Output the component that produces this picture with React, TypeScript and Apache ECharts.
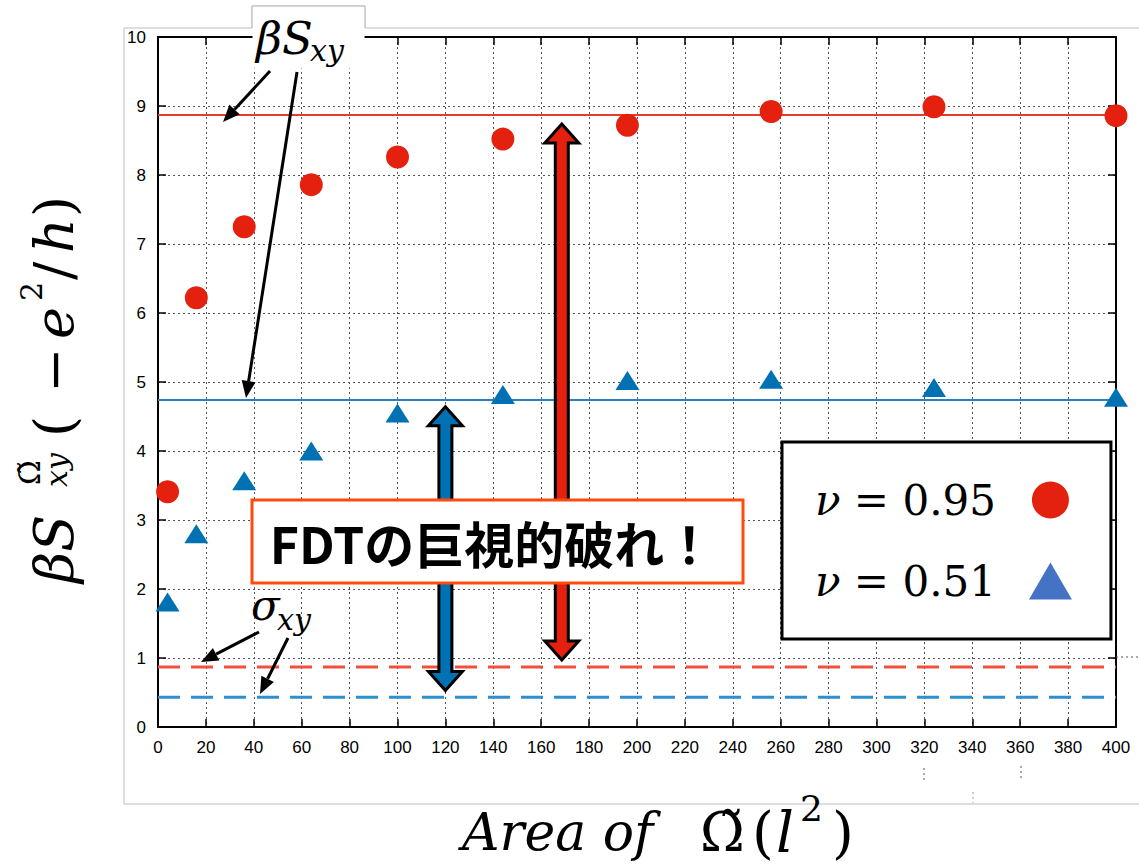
import React, { useEffect, useRef } from 'react';
import * as echarts from 'echarts';

// ---- data ----
const areas = [4, 16, 36, 64, 100, 144, 196, 256, 324, 400];
const nu095 = [3.41, 6.22, 7.25, 7.86, 8.26, 8.52, 8.72, 8.92, 8.99, 8.86];
const nu051 = [1.81, 2.8, 3.57, 4.0, 4.55, 4.82, 5.02, 5.04, 4.92, 4.78];
const bulk095 = 8.87; // βSxy (ν = 0.95)
const bulk051 = 4.74; // βSxy (ν = 0.51)
const sigma095 = 0.87; // σxy (ν = 0.95)
const sigma051 = 0.43; // σxy (ν = 0.51)
const gapArrowX = [168.6, 120];
const gapArrowBottom = [0.97, 0.53];
const gapArrowTop = [8.74, 4.64];
const seriesNames = ['ν = 0.95', 'ν = 0.51'];
const xMin = 0, xMax = 400, xStep = 20;
const yMin = 0, yMax = 10, yStep = 1;

const RED = '#E4200F';
const BLUE = '#0071B3';
const mathFont = "'DejaVu Serif', serif";
const sansFont = "'Liberation Sans', Arial, sans-serif";

function txt(text: string, x: number, y: number, size: number, opts: any = {}) {
  return {
    type: 'text',
    z: 102,
    style: {
      text,
      x,
      y,
      fontSize: size,
      fontFamily: opts.family || mathFont,
      fontStyle: opts.italic === false ? 'normal' : 'italic',
      fontWeight: opts.weight || 'normal',
      fill: '#000',
      align: opts.align || 'left',
      verticalAlign: 'middle',
      textAlign: opts.align || 'left',
      textVerticalAlign: 'middle',
    },
  };
}

function pointer(x1: number, y1: number, x2: number, y2: number) {
  const head = 17, hw = 7;
  const a = Math.atan2(y2 - y1, x2 - x1);
  const bx = x2 - head * Math.cos(a), by = y2 - head * Math.sin(a);
  const px = -Math.sin(a) * hw, py = Math.cos(a) * hw;
  return [
    { type: 'line', z: 102, shape: { x1, y1, x2: bx, y2: by }, style: { stroke: '#000', lineWidth: 3 } },
    { type: 'polygon', z: 102, shape: { points: [[x2, y2], [bx + px, by + py], [bx - px, by - py]] }, style: { fill: '#000' } },
  ];
}

function hline(value: number, color: string, dashed: boolean, width: number) {
  return {
    type: 'line',
    data: [[xMin, value], [xMax, value]],
    symbol: 'none',
    silent: true,
    z: 2,
    lineStyle: { color, width, type: dashed ? [22, 11] : 'solid' },
  };
}

export default function App() {
  const ref = useRef<HTMLDivElement>(null);
  useEffect(() => {
    const chart = echarts.init(ref.current!, null, { renderer: 'svg' });

    const axisCommon = {
      type: 'value',
      axisLine: { show: true, onZero: false, lineStyle: { color: '#000', width: 2 } },
      axisTick: { show: true, inside: true, length: 8, lineStyle: { color: '#000', width: 1.5 } },
    };

    const yTitle = {
      type: 'group',
      x: 68,
      y: 583,
      rotation: Math.PI / 2,
      children: [
        txt('βS', 0, -14, 54),
        txt('Ω\u0303', 98, -39, 30, { italic: false }),
        txt('xy', 96, -12, 30),
        txt('(', 146, -14, 54, { italic: false }),
        txt('−', 190, -14, 54, { italic: false }),
        txt('e', 244, -14, 54),
        txt('2', 282, -37, 30, { italic: false }),
        txt('/', 303, -14, 54, { italic: false }),
        txt('h', 330, -14, 54),
        txt(')', 366, -14, 54, { italic: false }),
      ],
    };

    const graphic: any[] = [
      // outer frame of the pasted figure
      { type: 'polyline', z: 1, shape: { points: [[1139, 28], [365, 28], [365, 6], [252, 6], [252, 28], [124, 28], [124, 804], [1139, 804]] }, style: { stroke: '#bdbdbd', lineWidth: 1, fill: null } },
      { type: 'rect', z: 100, shape: { x: 252.5, y: 6.5, width: 112, height: 62 }, style: { fill: '#fff' } },
      { type: 'polyline', z: 101, shape: { points: [[252, 28], [252, 6], [365, 6], [365, 28]] }, style: { stroke: '#bdbdbd', lineWidth: 1, fill: null } },
      // stray dotted bits
      { type: 'line', z: 1, shape: { x1: 1116, y1: 657, x2: 1139, y2: 657 }, style: { stroke: '#555', lineWidth: 1, lineDash: [2, 3] } },
      { type: 'line', z: 1, shape: { x1: 924, y1: 768, x2: 924, y2: 781 }, style: { stroke: '#555', lineWidth: 1, lineDash: [2, 3] } },
      { type: 'line', z: 1, shape: { x1: 1021, y1: 766, x2: 1021, y2: 779 }, style: { stroke: '#555', lineWidth: 1, lineDash: [2, 3] } },
      { type: 'line', z: 1, shape: { x1: 973, y1: 792, x2: 973, y2: 803 }, style: { stroke: '#999', lineWidth: 1, lineDash: [2, 3] } },
      // βSxy label
      txt('βS', 256, 38, 45),
      txt('xy', 310, 50, 30),
      ...pointer(270, 71, 223, 122),
      ...pointer(297, 72, 246, 398),
      // σxy label
      txt('σ', 251, 605, 42),
      txt('xy', 277, 619, 30),
      ...pointer(259, 632, 201, 662),
      ...pointer(288, 638, 260, 694),
      // FDT box
      { type: 'rect', z: 100, shape: { x: 252, y: 500, width: 491, height: 83 }, style: { fill: '#fff', stroke: '#FF4A10', lineWidth: 3 } },
      txt('FDTの巨視的破れ！', 492, 542, 50, { family: "'Noto Sans CJK JP', sans-serif", italic: false, weight: 'bold', align: 'center' }),
      yTitle,
      // x title
      txt('Area of', 462, 832, 52),
      txt('Ω\u0303', 700, 832, 54, { italic: false }),
      txt('(', 752, 832, 56, { italic: false }),
      txt('l', 776, 832, 56),
      txt('2', 800, 808, 36, { italic: false }),
      txt(')', 832, 832, 56, { italic: false }),
    ];

    const option: any = {
      animation: false,
      backgroundColor: '#fff',
      grid: { left: 158, top: 37, width: 958, height: 690 },
      xAxis: [
        {
          ...axisCommon,
          position: 'bottom',
          min: xMin,
          max: xMax,
          interval: xStep,
          axisLabel: { color: '#000', fontSize: 17, fontFamily: sansFont, margin: 12 },
          splitLine: { show: true, lineStyle: { color: '#555', width: 1, type: [2, 3] } },
        },
        {
          ...axisCommon,
          position: 'top',
          min: xMin,
          max: xMax,
          interval: xStep,
          axisLabel: { show: false },
          splitLine: { show: false },
        },
      ],
      yAxis: [
        {
          ...axisCommon,
          position: 'left',
          min: yMin,
          max: yMax,
          interval: yStep,
          axisLabel: { color: '#000', fontSize: 17, fontFamily: sansFont, margin: 12 },
          splitLine: { show: true, lineStyle: { color: '#555', width: 1, type: [2, 3] } },
        },
        {
          ...axisCommon,
          position: 'right',
          min: yMin,
          max: yMax,
          interval: yStep,
          axisLabel: { show: false },
          splitLine: { show: false },
        },
      ],
      legend: {
        orient: 'vertical',
        left: 782,
        top: 442,
        align: 'right',
        selectedMode: false,
        backgroundColor: '#fff',
        borderColor: '#000',
        borderWidth: 3,
        padding: [33, 39, 33, 33],
        itemGap: 31,
        itemWidth: 43,
        itemHeight: 37,
        z: 10,
        formatter: (name: string) => '{i|' + name.slice(0, 1) + '}' + name.slice(1),
        textStyle: {
          fontSize: 42,
          fontFamily: mathFont,
          color: '#000',
          lineHeight: 50,
          padding: [0, 28, 0, 0],
          rich: { i: { fontSize: 42, fontFamily: mathFont, fontStyle: 'italic', lineHeight: 50 } },
        },
        data: [
          { name: seriesNames[0], icon: 'circle' },
          { name: seriesNames[1], icon: 'triangle', itemStyle: { color: '#4472C4' } },
        ],
      },
      graphic,
      series: [
        hline(bulk095, '#E8392E', false, 2),
        hline(bulk051, '#2A80C2', false, 2),
        hline(sigma095, '#F2503F', true, 3),
        hline(sigma051, '#2E8FCF', true, 3),
        {
          type: 'custom',
          silent: true,
          clip: false,
          z: 3,
          data: gapArrowX.map((x, i) => [x, gapArrowBottom[i], gapArrowTop[i], i]),
          renderItem: (params: any, api: any) => {
            const top = api.coord([api.value(0), api.value(2)]);
            const bot = api.coord([api.value(0), api.value(1)]);
            const cx = top[0], t = top[1], b = bot[1];
            const H = 17, w = 6.5, L = 19;
            const fill = api.value(3) === 0 ? RED : BLUE;
            return {
              type: 'polygon',
              shape: {
                points: [
                  [cx, t], [cx + H, t + L], [cx + w, t + L], [cx + w, b - L], [cx + H, b - L],
                  [cx, b], [cx - H, b - L], [cx - w, b - L], [cx - w, t + L], [cx - H, t + L],
                ],
              },
              style: { fill, stroke: '#000', lineWidth: 3, lineJoin: 'miter' },
            };
          },
        },
        {
          name: seriesNames[0],
          type: 'scatter',
          symbol: 'circle',
          symbolSize: 23,
          itemStyle: { color: RED, opacity: 1 },
          z: 4,
          data: areas.map((a, i) => [a, nu095[i]]),
        },
        {
          name: seriesNames[1],
          type: 'scatter',
          symbol: 'triangle',
          symbolSize: [24, 19],
          itemStyle: { color: BLUE, opacity: 1 },
          z: 4,
          data: areas.map((a, i) => [a, nu051[i]]),
        },
      ],
    };

    chart.setOption(option);
    return () => chart.dispose();
  }, []);
  return (
    <div
      ref={ref}
      style={{ position: 'fixed', left: 0, top: 0, width: 1139, height: 867, background: '#fff' }}
    />
  );
}
